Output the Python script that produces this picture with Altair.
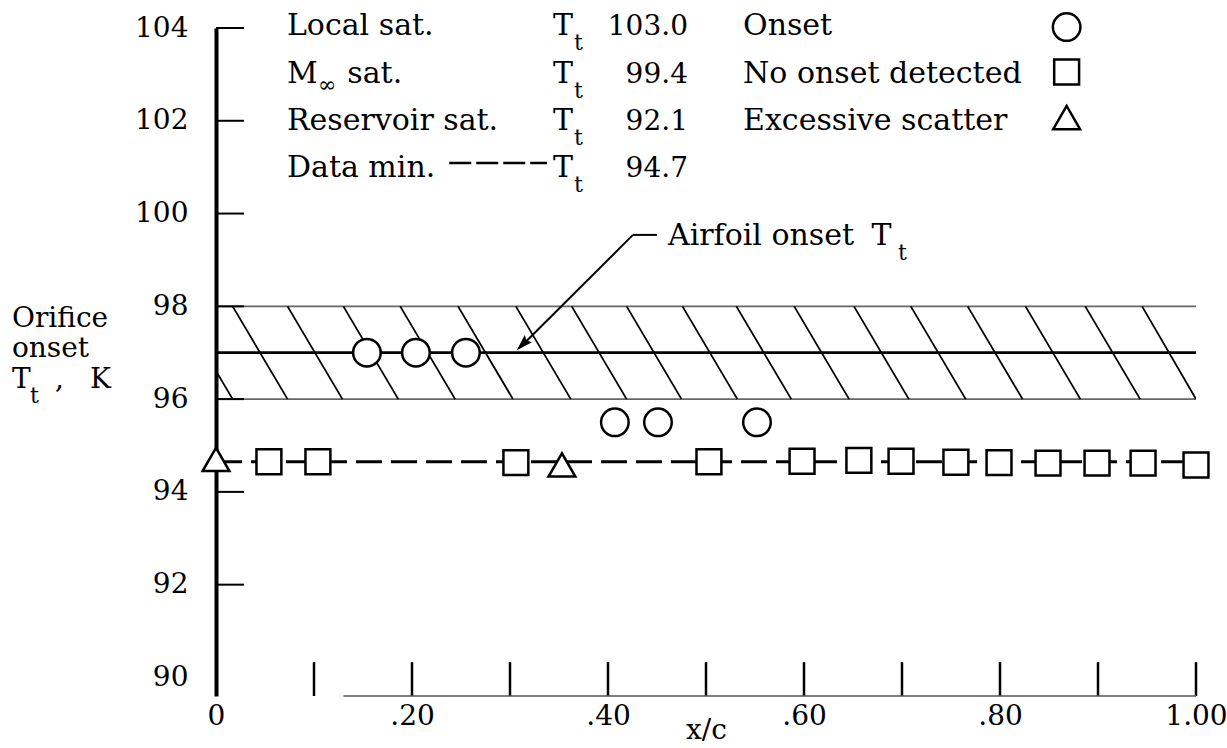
import altair as alt
import pandas as pd

# ---------------- data ----------------
onset_x = [0.154, 0.204, 0.255, 0.407, 0.451, 0.552]
onset_y = [97.0, 97.0, 97.0, 95.5, 95.5, 95.5]

noonset_x = [0.054, 0.104, 0.306, 0.503, 0.598, 0.656, 0.699, 0.755, 0.799, 0.849, 0.899, 0.946, 1.0]
noonset_y = [94.65, 94.65, 94.63, 94.65, 94.66, 94.68, 94.66, 94.64, 94.63, 94.62, 94.62, 94.62, 94.58]

scatter_x = [0.0, 0.353]
scatter_y = [94.70, 94.58]

airfoil_onset_tt = 97.0
band_low = 96.0
band_high = 98.0
data_min_tt = 94.65

hatch_top_x = [-0.039, 0.017, 0.073, 0.130, 0.188, 0.247, 0.306, 0.363, 0.419,
               0.476, 0.531, 0.590, 0.651, 0.709, 0.767, 0.826, 0.887, 0.945]
hatch_bottom_x = [0.017, 0.073, 0.129, 0.186, 0.244, 0.303, 0.362, 0.419, 0.475,
                  0.532, 0.587, 0.646, 0.707, 0.765, 0.823, 0.882, 0.943, 1.0]

y_label_values = [90, 92, 94, 96, 98, 100, 102, 104]
y_tick_values = [92, 94, 96, 98, 100, 102, 104]
x_label_values = [0.0, 0.2, 0.4, 0.6, 0.8, 1.0]
x_tick_values = [0.1, 0.2, 0.3, 0.4, 0.5, 0.6, 0.7, 0.8, 0.9, 1.0]

legend_names = ["Local sat.", "Reservoir sat.", "Data min."]
legend_values = ["103.0", "99.4", "92.1", "94.7"]
symbol_names = ["Onset", "No onset detected", "Excessive scatter"]

# ---------------- layout constants (annotation placement) ----------------
FONT = "DejaVu Serif"
FS = 28        # digits and axis title
FS_W = 30      # legend / annotation words
FS_SUB = 22
Y_MIN, Y_MAX = 89.6, 104.0
ROW_Y = [103.85, 102.81, 101.80, 100.79]
X_LEFT_COL = 0.0724
X_T = 0.3439
X_T_SUB = 0.3653
X_VAL = 0.4816
X_RIGHT_COL = 0.5378
X_SYMBOL = 0.868
SYMBOL_Y = [104.02, 103.05, 102.07]
TICK_LEN_X = 0.0286
TICK_TOP_Y = 90.33

xs = alt.Scale(domain=[0.0, 1.0], nice=False, zero=False)
ys = alt.Scale(domain=[Y_MIN, Y_MAX], nice=False, zero=False)

x_axis = alt.Axis(
    values=x_label_values,
    labelExpr="datum.value == 0 ? '0' : (datum.value >= 1 ? format(datum.value, '.2f') : replace(format(datum.value, '.2f'), '0.', '.'))",
    ticks=False, domain=False, grid=False,
    labelFont=FONT, labelFontSize=FS, labelColor="black", labelPadding=6,
    labelFlush=False, labelOverlap=False, labelBound=False,
    title="x/c", titleFont=FONT, titleFontSize=FS, titleFontWeight="normal",
    titleColor="black", titlePadding=-14,
)
y_axis = alt.Axis(
    values=y_label_values, ticks=False, domain=True, domainColor="black",
    domainWidth=4, grid=False, labelFont=FONT, labelFontSize=FS,
    labelColor="black", labelPadding=28, title=None,
)


def X(f):
    return alt.X(f, type="quantitative", scale=xs, axis=x_axis)


def Y(f):
    return alt.Y(f, type="quantitative", scale=ys, axis=y_axis)


layers = []

# band border lines
band_df = pd.DataFrame({"x": [0.0, 0.0], "x2": [1.0, 1.0], "y": [band_low, band_high]})
layers.append(alt.Chart(band_df).mark_rule(color="#666666", strokeWidth=1.6).encode(
    x=X("x"), x2="x2", y=Y("y")))

# hatching inside the band
hatch_df = pd.DataFrame({"x": hatch_top_x, "x2": hatch_bottom_x,
                         "y": [band_high] * len(hatch_top_x),
                         "y2": [band_low] * len(hatch_top_x)})
layers.append(alt.Chart(hatch_df).mark_rule(color="black", strokeWidth=1.8, clip=True).encode(
    x=X("x"), x2="x2", y=Y("y"), y2="y2"))

# airfoil onset line
af_df = pd.DataFrame({"x": [0.0], "x2": [1.0], "y": [airfoil_onset_tt]})
layers.append(alt.Chart(af_df).mark_rule(color="black", strokeWidth=2.8).encode(
    x=X("x"), x2="x2", y=Y("y")))

# data min dashed line
dm_df = pd.DataFrame({"x": [0.0], "x2": [1.0], "y": [data_min_tt]})
layers.append(alt.Chart(dm_df).mark_rule(color="black", strokeWidth=3, strokeDash=[26, 9]).encode(
    x=X("x"), x2="x2", y=Y("y")))

# inward y ticks
yt_df = pd.DataFrame({"x": [0.0] * len(y_tick_values), "x2": [TICK_LEN_X] * len(y_tick_values),
                      "y": y_tick_values})
layers.append(alt.Chart(yt_df).mark_rule(color="black", strokeWidth=2).encode(
    x=X("x"), x2="x2", y=Y("y")))

# inward x ticks
xt_df = pd.DataFrame({"x": x_tick_values, "y": [Y_MIN] * len(x_tick_values),
                      "y2": [TICK_TOP_Y] * len(x_tick_values)})
layers.append(alt.Chart(xt_df).mark_rule(color="black", strokeWidth=2.5).encode(
    x=X("x"), y=Y("y"), y2="y2"))

# x axis line (partially faded in the reference)
xl_df = pd.DataFrame({"x": [0.13], "x2": [1.0], "y": [Y_MIN]})
layers.append(alt.Chart(xl_df).mark_rule(color="#555555", strokeWidth=1.6).encode(
    x=X("x"), x2="x2", y=Y("y")))

# leader for "Airfoil onset Tt"
lead_df = pd.DataFrame({"x": [0.4255, 0.4255], "x2": [0.45, 0.312],
                        "y": [99.54, 99.54], "y2": [99.54, 97.15]})
layers.append(alt.Chart(lead_df).mark_rule(color="black", strokeWidth=2).encode(
    x=X("x"), x2="x2", y=Y("y"), y2="y2"))
arrow_df = pd.DataFrame({"x": [0.3143], "y": [97.21]})
layers.append(alt.Chart(arrow_df).mark_point(
    shape="M0,-1L0.5,0.6L0,0.35L-0.5,0.6Z", size=420, angle=225, filled=True,
    color="black", opacity=1).encode(x=X("x"), y=Y("y")))

# legend dash sample
ld_df = pd.DataFrame({"x": [0.238], "x2": [0.3378], "y": [101.09]})
layers.append(alt.Chart(ld_df).mark_rule(color="black", strokeWidth=2.5, strokeDash=[22, 5]).encode(
    x=X("x"), x2="x2", y=Y("y")))

# markers
sym_style = dict(filled=True, fill="white", stroke="black", strokeWidth=2.5, opacity=1)
on_df = pd.DataFrame({"x": onset_x, "y": onset_y})
layers.append(alt.Chart(on_df).mark_point(shape="circle", size=760, **sym_style).encode(
    x=X("x"), y=Y("y")))
no_df = pd.DataFrame({"x": noonset_x, "y": noonset_y})
layers.append(alt.Chart(no_df).mark_point(shape="square", size=620, **sym_style).encode(
    x=X("x"), y=Y("y")))
sc_df = pd.DataFrame({"x": scatter_x, "y": scatter_y})
layers.append(alt.Chart(sc_df).mark_point(shape="triangle-up", size=720, **sym_style).encode(
    x=X("x"), y=Y("y")))

# legend symbols
for shp, sz, yy in [("circle", 760, SYMBOL_Y[0]), ("square", 620, SYMBOL_Y[1]),
                    ("triangle-up", 720, SYMBOL_Y[2])]:
    d = pd.DataFrame({"x": [X_SYMBOL], "y": [yy]})
    layers.append(alt.Chart(d).mark_point(shape=shp, size=sz, **sym_style).encode(
        x=X("x"), y=Y("y")))

# ---------------- texts ----------------
word_texts = [
    (X_LEFT_COL, ROW_Y[0], legend_names[0]),
    (X_LEFT_COL, ROW_Y[1], "M"),
    (0.134, ROW_Y[1], "sat."),
    (X_LEFT_COL, ROW_Y[2], legend_names[1]),
    (X_LEFT_COL, ROW_Y[3], legend_names[2]),
    (X_RIGHT_COL, ROW_Y[0], symbol_names[0]),
    (X_RIGHT_COL, ROW_Y[1], symbol_names[1]),
    (X_RIGHT_COL, ROW_Y[2], symbol_names[2]),
    (0.4612, 99.32, "Airfoil onset"),
    (0.669, 99.32, "T"),
] + [(X_T, ry, "T") for ry in ROW_Y]
wt_df = pd.DataFrame(word_texts, columns=["x", "y", "t"])
layers.append(alt.Chart(wt_df).mark_text(font=FONT, fontSize=FS_W, align="left",
                                          baseline="alphabetic", color="black").encode(
    x=X("x"), y=Y("y"), text="t:N"))

# y-axis title pieces
ytitle_texts = [
    (-0.2082, 97.555, "Orifice"),
    (-0.2082, 96.908, "onset"),
    (-0.2082, 96.24, "T"),
    (-0.1643, 96.24, ","),
    (-0.1286, 96.24, "K"),
]
yt_text_df = pd.DataFrame(ytitle_texts, columns=["x", "y", "t"])
layers.append(alt.Chart(yt_text_df).mark_text(font=FONT, fontSize=FS, align="left",
                                               baseline="alphabetic", color="black").encode(
    x=X("x"), y=Y("y"), text="t:N"))

val_df = pd.DataFrame({"x": [X_VAL] * 4, "y": ROW_Y, "t": legend_values})
layers.append(alt.Chart(val_df).mark_text(font=FONT, fontSize=FS, align="right",
                                           baseline="alphabetic", color="black").encode(
    x=X("x"), y=Y("y"), text="t:N"))

sub_texts = [(X_T_SUB, ry, "t") for ry in ROW_Y] + [(0.696, 99.32, "t"), (-0.1898, 96.24, "t")]
sub_df = pd.DataFrame(sub_texts, columns=["x", "y", "t"])
layers.append(alt.Chart(sub_df).mark_text(font=FONT, fontSize=FS_SUB, align="left",
                                           baseline="alphabetic", dy=15, color="black").encode(
    x=X("x"), y=Y("y"), text="t:N"))

inf_df = pd.DataFrame({"x": [0.104], "y": [ROW_Y[1]], "t": ["\u221e"]})
layers.append(alt.Chart(inf_df).mark_text(font=FONT, fontSize=FS_SUB, align="left",
                                           baseline="alphabetic", dy=9, color="black").encode(
    x=X("x"), y=Y("y"), text="t:N"))

chart = alt.layer(*layers).properties(
    width=980, height=668,
    padding={"left": 216, "top": 28, "right": 31, "bottom": 52},
    autosize=alt.AutoSizeParams(type="none"),
    background="white",
).configure_view(stroke=None)

chart.save("out.html", embed_options={"renderer": "svg", "actions": False})
